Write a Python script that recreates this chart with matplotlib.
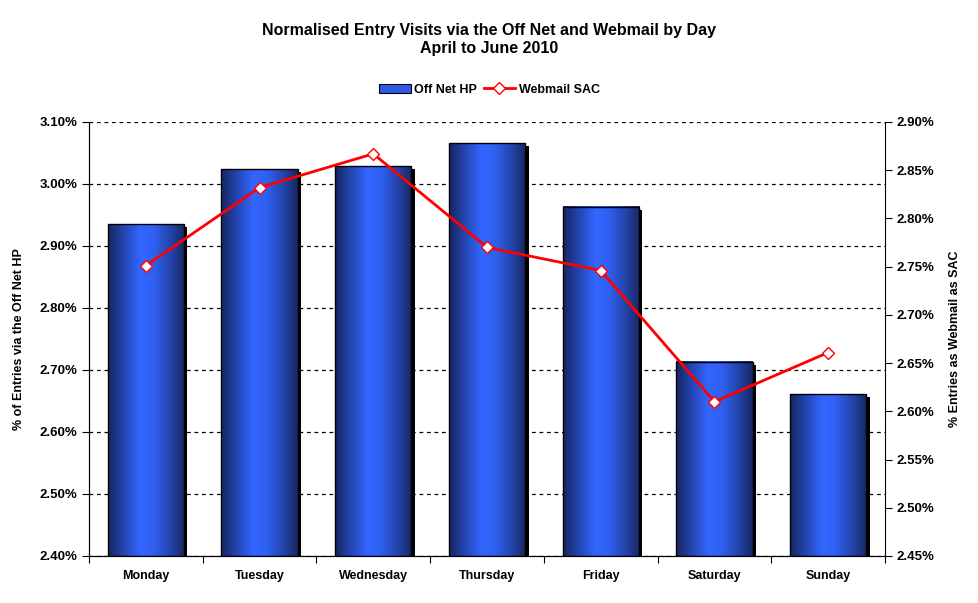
import numpy as np
import matplotlib.pyplot as plt
from matplotlib.colors import LinearSegmentedColormap
from matplotlib.patches import Rectangle, Patch
from matplotlib.lines import Line2D
from matplotlib.ticker import FuncFormatter, MultipleLocator

plt.rcParams['font.family'] = ['Liberation Sans', 'DejaVu Sans']
plt.rcParams['font.weight'] = 'bold'

# Данные
days = ['Monday', 'Tuesday', 'Wednesday', 'Thursday', 'Friday', 'Saturday', 'Sunday']
off_net_hp = [2.935, 3.024, 3.029, 3.066, 2.963, 2.713, 2.661]
webmail_sac = [2.751, 2.832, 2.867, 2.770, 2.746, 2.610, 2.661]

fig = plt.figure(figsize=(9.79, 6.03), dpi=100)
ax = fig.add_axes([89/979, 47/603, 796/979, 434/603])
ax2 = ax.twinx()

x = np.arange(len(days))
w = 0.67
bottom = 2.40

# Градиент для столбиков (тёмные края, светлая середина)
cmap = LinearSegmentedColormap.from_list(
    'bar', [(0.0, '#17265e'), (0.2, '#2445b0'), (0.42, '#3366ff'),
            (0.6, '#3060f0'), (0.85, '#223f9e'), (1.0, '#17265e')])
grad = np.linspace(0, 1, 256).reshape(1, -1)

ax.set_xlim(-0.5, len(days) - 0.5)
ax.set_ylim(2.40, 3.10)

for i, v in enumerate(off_net_hp):
    # тень
    ax.add_patch(Rectangle((x[i] - w/2 + 0.03, bottom), w, v - bottom - 0.005,
                           facecolor='black', edgecolor='none', zorder=2))
    ax.imshow(grad, cmap=cmap, aspect='auto', zorder=3,
              extent=(x[i] - w/2, x[i] + w/2, bottom, v))
    ax.add_patch(Rectangle((x[i] - w/2, bottom), w, v - bottom,
                           facecolor='none', edgecolor='black', lw=1, zorder=4))

ax.set_xlim(-0.5, len(days) - 0.5)
ax.set_ylim(2.40, 3.10)
ax.yaxis.set_major_locator(MultipleLocator(0.1))
ax.yaxis.set_major_formatter(FuncFormatter(lambda v, p: f'{v:.2f}%'))
ax.grid(axis='y', color='black', linestyle=(0, (3, 3)), lw=0.9)
ax.set_axisbelow(True)
ax.set_xticks(np.arange(-0.5, len(days)), minor=False)
ax.set_xticklabels([''] * (len(days) + 1))
ax.set_xticks(x, minor=True)
ax.set_xticklabels(days, minor=True)
ax.tick_params(axis='x', which='minor', length=0, pad=10, labelsize=9)
ax.tick_params(axis='x', which='major', length=5, direction='out')
ax.tick_params(axis='y', labelsize=9.5, length=5, direction='out')
ax.set_ylabel('% of Entries via the Off Net HP', fontsize=9, fontweight='bold', labelpad=10)
ax.spines['top'].set_visible(False)
ax.spines['right'].set_visible(False)

ax2.plot(x, webmail_sac, color='red', lw=2, marker='D', markersize=6,
         markerfacecolor='white', markeredgecolor='red', markeredgewidth=1, zorder=5)
ax2.set_ylim(2.45, 2.90)
ax2.yaxis.set_major_locator(MultipleLocator(0.05))
ax2.yaxis.set_major_formatter(FuncFormatter(lambda v, p: f'{v:.2f}%'))
ax2.tick_params(axis='y', labelsize=9.5, length=5, direction='out')
ax2.set_ylabel('% Entries as Webmail as SAC', fontsize=9, fontweight='bold', labelpad=10)
ax2.spines['top'].set_visible(False)

fig.text(0.5, 0.935, 'Normalised Entry Visits via the Off Net and Webmail by Day\nApril to June 2010',
         ha='center', va='center', fontsize=11.5, fontweight='bold', linespacing=1.25)

handles = [Patch(facecolor='#2f5ae8', edgecolor='black', lw=0.8),
           Line2D([], [], color='red', lw=2, marker='D', markersize=6,
                  markerfacecolor='white', markeredgecolor='red')]
fig.legend(handles, ['Off Net HP', 'Webmail SAC'], loc='center', bbox_to_anchor=(0.5, 0.851),
           ncol=2, frameon=False, fontsize=9, handlelength=2.5, columnspacing=0.5, handletextpad=0.3)

fig.savefig('out.png', dpi=100)
